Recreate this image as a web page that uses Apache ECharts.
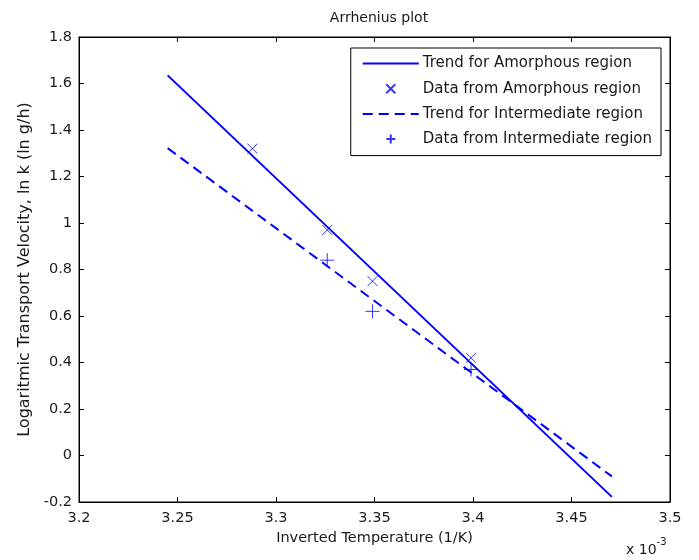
<!DOCTYPE html>
<html><head><meta charset="utf-8">
<script src="https://cdn.jsdelivr.net/npm/echarts@6/dist/echarts.min.js"></script>
<style>html,body{margin:0;padding:0;background:#fff}#c{width:699px;height:560px}</style>
</head><body><div id="c"></div>
<script>
// values in units of 1e-3 1/K
const xTicks = [3.2, 3.25, 3.3, 3.35, 3.4, 3.45, 3.5];
const yTicks = [-0.2, 0, 0.2, 0.4, 0.6, 0.8, 1, 1.2, 1.4, 1.6, 1.8];
const trendAmorphous = [[3.245, 1.635], [3.4705, -0.178]];
const dataAmorphousX = [3.288, 3.326, 3.349, 3.399];
const dataAmorphousY = [1.32, 0.97, 0.75, 0.42];
const trendIntermediate = [[3.245, 1.322], [3.4705, -0.09]];
const dataIntermediateX = [3.326, 3.349, 3.399];
const dataIntermediateY = [0.84, 0.62, 0.37];

const FONT = 'DejaVu Sans, sans-serif';
const FS = 14.5;
const BLUE = '#0000ff';
const TXT = '#1a1a1a';
const chart = echarts.init(document.getElementById('c'));
const crossX = 'path://M0,0L10,10M10,0L0,10';
const plus = 'path://M5,0L5,10M0,5L10,5';
const zip = (xs, ys) => xs.map((x, i) => [x, ys[i]]);
const fmt = ticks => v => { const t = ticks.find(k => Math.abs(k - v) < 1e-6); return t === undefined ? '' : String(t); };
const axisCommon = {
  type: 'value',
  axisLine: { show: true, onZero: false, lineStyle: { color: '#000', width: 1 } },
  axisTick: { show: true, inside: true, length: 5, lineStyle: { color: '#000' } },
  splitLine: { show: false }
};
const hiddenSym = { color: 'rgba(0,0,0,0)', borderWidth: 0, opacity: 0 };
chart.setOption({
  animation: false,
  backgroundColor: '#fff',
  title: { text: 'Arrhenius plot', left: 374, top: 6, textAlign: 'center',
    textStyle: { fontFamily: FONT, fontSize: 14, fontWeight: 'normal', color: TXT } },
  grid: { left: 79, right: 29, top: 37, bottom: 58, show: true, borderColor: '#000', borderWidth: 1 },
  xAxis: [
    Object.assign({}, axisCommon, { min: 3.2, max: 3.5, interval: 0.05, position: 'bottom',
      name: 'Inverted Temperature (1/K)', nameLocation: 'middle', nameGap: 27,
      nameTextStyle: { fontFamily: FONT, fontSize: FS, color: TXT },
      axisLabel: { color: TXT, fontFamily: FONT, fontSize: FS, margin: 9, formatter: fmt(xTicks) } }),
    Object.assign({}, axisCommon, { min: 3.2, max: 3.5, interval: 0.05, position: 'top', axisLabel: { show: false } })
  ],
  yAxis: [
    Object.assign({}, axisCommon, { min: -0.2, max: 1.8, interval: 0.2, position: 'left',
      name: 'Logaritmic Transport Velocity, ln k (ln g/h)', nameLocation: 'middle', nameGap: 46,
      nameTextStyle: { fontFamily: FONT, fontSize: 16, color: TXT },
      axisLabel: { color: TXT, fontFamily: FONT, fontSize: FS, margin: 7, formatter: fmt(yTicks) } }),
    Object.assign({}, axisCommon, { min: -0.2, max: 1.8, interval: 0.2, position: 'right', axisLabel: { show: false } })
  ],
  legend: {
    orient: 'vertical', right: 38, top: 48, backgroundColor: '#fff',
    borderColor: '#000', borderWidth: 1, padding: [8, 9, 9, 11],
    itemWidth: 56, itemHeight: 9, itemGap: 10.2,
    textStyle: { fontFamily: FONT, fontSize: 15, color: TXT, padding: [0, 0, 0, -1] },
    data: [
      { name: 'Trend for Amorphous region', itemStyle: hiddenSym },
      { name: 'Data from Amorphous region' },
      { name: 'Trend for Intermediate region', itemStyle: hiddenSym },
      { name: 'Data from Intermediate region' }
    ]
  },
  series: [
    { name: 'Trend for Amorphous region', type: 'line', data: trendAmorphous, showSymbol: false, symbol: 'none',
      lineStyle: { color: BLUE, width: 2 }, itemStyle: { color: BLUE } },
    { name: 'Data from Amorphous region', type: 'scatter', data: zip(dataAmorphousX, dataAmorphousY),
      symbol: crossX, symbolSize: 10,
      itemStyle: { color: 'rgba(0,0,0,0)', borderColor: BLUE, borderWidth: 1 } },
    { name: 'Trend for Intermediate region', type: 'line', data: trendIntermediate, showSymbol: false, symbol: 'none',
      lineStyle: { color: BLUE, width: 2, type: [10, 6] }, itemStyle: { color: BLUE } },
    { name: 'Data from Intermediate region', type: 'scatter', data: zip(dataIntermediateX, dataIntermediateY),
      symbol: plus, symbolSize: 14,
      itemStyle: { color: 'rgba(0,0,0,0)', borderColor: BLUE, borderWidth: 1 } }
  ],
  graphic: [{
    type: 'text', left: 626, top: 537,
    style: { text: '{a|x 10}{b|-3}', rich: {
      a: { fontFamily: FONT, fontSize: 14, fill: TXT, padding: [6, 0, 0, 0] },
      b: { fontFamily: FONT, fontSize: 10, fill: TXT, verticalAlign: 'top' } } }
  }]
});
</script></body></html>
